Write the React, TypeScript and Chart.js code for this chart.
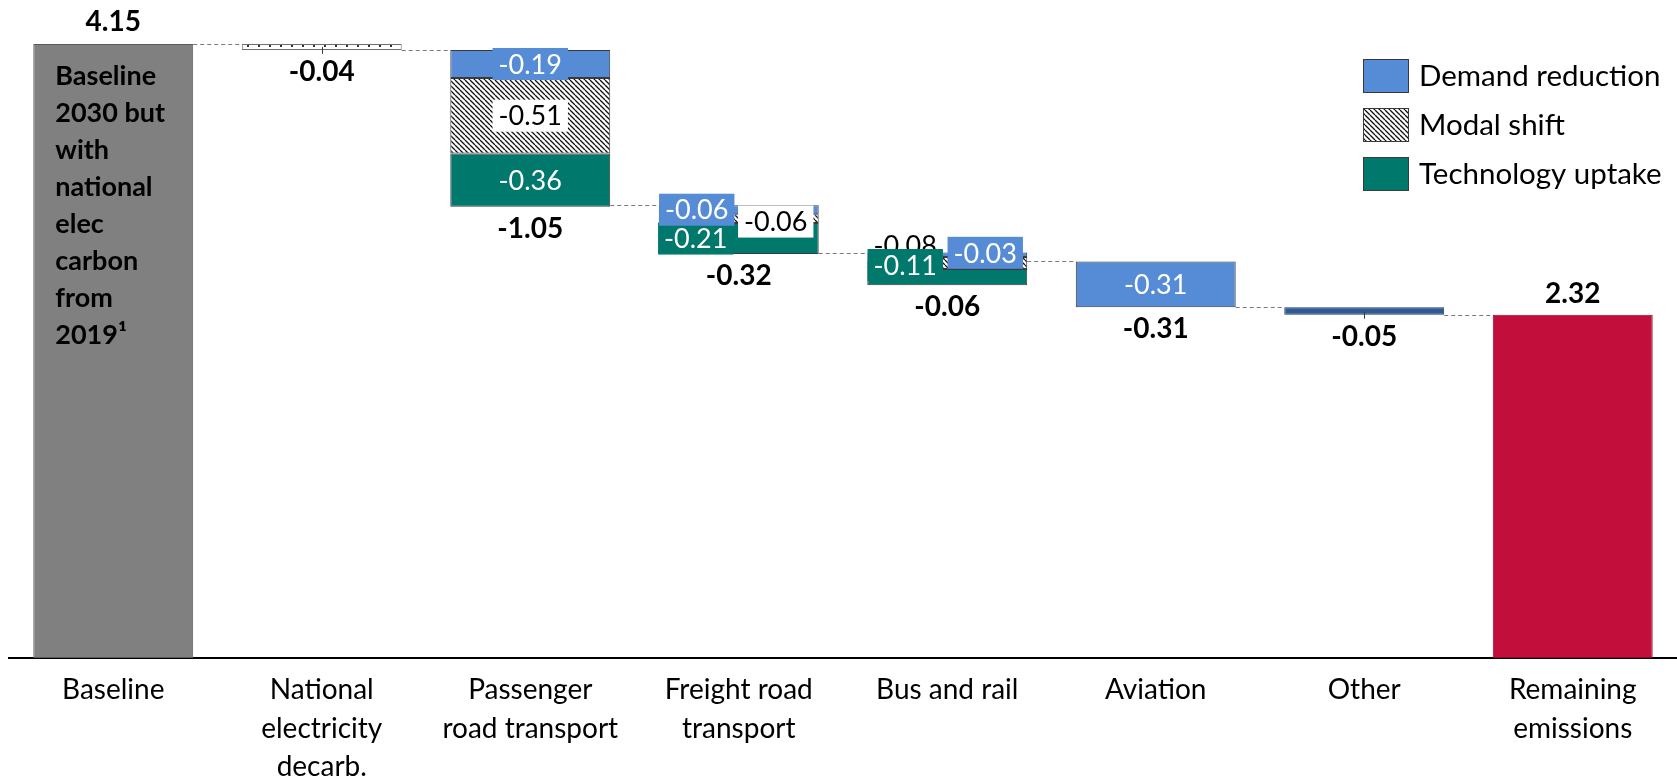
import React, { useEffect, useRef } from "react";
import { Chart, registerables } from "chart.js";

Chart.register(...registerables);

// ---- data -------------------------------------------------------------
const categories: string[][] = [
  ["Baseline"],
  ["National", "electricity", "decarb."],
  ["Passenger", "road transport"],
  ["Freight road", "transport"],
  ["Bus and rail"],
  ["Aviation"],
  ["Other"],
  ["Remaining", "emissions"],
];
const baselineEmissions = 4.15;
const remainingEmissions = 2.32;
const stepTotals = [null, -0.04, -1.05, -0.32, -0.06, -0.31, -0.05, null];
const electricityDecarb = [null, -0.04, null, null, null, null, null, null];
const otherReduction = [null, null, null, null, null, null, -0.05, null];
const demandReduction = [null, null, -0.19, -0.06, -0.03, -0.31, null, null];
const modalShift = [null, null, -0.51, -0.06, -0.08, null, null, null];
const technologyUptake = [null, null, -0.36, -0.21, -0.11, null, null, null];
const baselineNote = ["Baseline", "2030 but", "with", "national", "elec", "carbon", "from", "2019\u00b9"];
const legendItems = ["Demand reduction", "Modal shift", "Technology uptake"];

// ---- styling ----------------------------------------------------------
const FONT = "Lato, 'Noto Sans', sans-serif";
const FONT_SIZE = 27;
const AXIS_FONT_SIZE = 28;
const LEGEND_FONT_SIZE = 29.5;
const BOLD_FONT_SIZE = 28;
const BAR_PCT = 0.767;
const COLORS = {
  baseline: "#808080",
  baselineBorder: "#5a5a5a",
  remaining: "#C20E3B",
  remainingBorder: "#8a0a2a",
  demand: "#568CD6",
  tech: "#00786C",
  other: "#2F5A94",
  outline: "#3a3a3a",
  connector: "#7a7a7a",
};

// label nudges (px) for crowded segments, keyed "category:series"
const labelNudges: Record<string, [number, number]> = {
  "3:demand": [-42, 0],
  "3:modal": [37, 3],
  "3:tech": [-43, 0],
  "4:demand": [38, -2],
  "4:modal": [-42, -18],
  "4:tech": [-42, -12],
};

const round2 = (v: number) => Math.round(v * 100) / 100;

// running emission level after each step
const levels: number[] = [baselineEmissions];
for (let i = 1; i < categories.length - 1; i++) {
  levels.push(round2(levels[i - 1] + (stepTotals[i] ?? 0)));
}

// segments stack downward from the previous level in this order
const segmentSeries = [
  { key: "elec", values: electricityDecarb },
  { key: "other", values: otherReduction },
  { key: "demand", values: demandReduction },
  { key: "modal", values: modalShift },
  { key: "tech", values: technologyUptake },
];
const floating: Record<string, ([number, number] | null)[]> = {};
segmentSeries.forEach((s) => (floating[s.key] = categories.map(() => null)));
const stepBottoms: number[] = [];
for (let i = 1; i < categories.length - 1; i++) {
  let cursor = levels[i - 1];
  for (const s of segmentSeries) {
    const v = s.values[i];
    if (v == null) continue;
    const next = round2(cursor + v);
    floating[s.key][i] = [next, cursor];
    cursor = next;
  }
  stepBottoms[i] = cursor;
}

function hatchPattern(ctx: CanvasRenderingContext2D, size = 5) {
  const c = document.createElement("canvas");
  c.width = size;
  c.height = size;
  const g = c.getContext("2d")!;
  g.fillStyle = "#ffffff";
  g.fillRect(0, 0, size, size);
  g.strokeStyle = "#111111";
  g.lineWidth = 1.3;
  g.beginPath();
  for (let k = -1; k <= 1; k++) {
    g.moveTo(k * size, 0);
    g.lineTo(k * size + size, size);
  }
  g.stroke();
  return ctx.createPattern(c, "repeat")!;
}

function dotPattern(ctx: CanvasRenderingContext2D) {
  const c = document.createElement("canvas");
  c.width = 11;
  c.height = 6;
  const g = c.getContext("2d")!;
  g.fillStyle = "#ffffff";
  g.fillRect(0, 0, 11, 6);
  g.fillStyle = "#333333";
  g.fillRect(5, 3, 2, 2);
  return ctx.createPattern(c, "repeat")!;
}

function labelBox(
  ctx: CanvasRenderingContext2D,
  text: string,
  cx: number,
  cy: number,
  bg: string,
  fg: string
) {
  ctx.font = `${FONT_SIZE}px ${FONT}`;
  const w = ctx.measureText(text).width + 12;
  const h = 32;
  ctx.fillStyle = bg;
  ctx.fillRect(cx - w / 2, cy - h / 2, w, h);
  ctx.fillStyle = fg;
  ctx.textAlign = "center";
  ctx.textBaseline = "middle";
  ctx.fillText(text, cx, cy + 1);
}

const waterfallDecor = {
  id: "waterfallDecor",
  afterDatasetsDraw(chart: any) {
    const { ctx, scales } = chart;
    const x = scales.x;
    const y = scales.y;
    const n = categories.length;
    const cw = (x.right - x.left) / n;
    const half = (cw * BAR_PCT) / 2;
    ctx.save();

    // dashed connectors between consecutive bars
    ctx.strokeStyle = COLORS.connector;
    ctx.lineWidth = 1;
    ctx.setLineDash([4, 3]);
    for (let i = 0; i < levels.length; i++) {
      const yy = Math.round(y.getPixelForValue(levels[i])) + 0.5;
      ctx.beginPath();
      ctx.moveTo(x.getPixelForValue(i) + half, yy);
      ctx.lineTo(x.getPixelForValue(i + 1) - half, yy);
      ctx.stroke();
    }
    ctx.setLineDash([]);

    // small centre ticks on the thin single bars
    ctx.strokeStyle = COLORS.outline;
    [1, 6].forEach((i) => {
      const cx = Math.round(x.getPixelForValue(i)) + 0.5;
      const by = y.getPixelForValue(stepBottoms[i]);
      ctx.beginPath();
      ctx.moveTo(cx, by - 3);
      ctx.lineTo(cx, by + 4);
      ctx.stroke();
    });

    // segment value labels
    const labelStyle: Record<string, [string, string]> = {
      demand: [COLORS.demand, "#ffffff"],
      modal: ["#ffffff", "#000000"],
      tech: [COLORS.tech, "#ffffff"],
    };
    ["modal", "tech", "demand"].forEach((key) => {
      const series = segmentSeries.find((s) => s.key === key)!;
      floating[key].forEach((range, i) => {
        if (!range) return;
        const v = series.values[i] as number;
        const nudge = labelNudges[`${i}:${key}`] || [0, 0];
        const cx = x.getPixelForValue(i) + nudge[0];
        const cy = y.getPixelForValue((range[0] + range[1]) / 2) + nudge[1];
        const [bg, fg] = labelStyle[key];
        labelBox(ctx, v.toFixed(2), cx, cy, bg, fg);
      });
    });

    // bold totals
    ctx.font = `bold ${BOLD_FONT_SIZE}px ${FONT}`;
    ctx.fillStyle = "#000000";
    ctx.textAlign = "center";
    ctx.textBaseline = "middle";
    ctx.fillText(baselineEmissions.toFixed(2), x.getPixelForValue(0), y.getPixelForValue(baselineEmissions) - 22);
    ctx.fillText(remainingEmissions.toFixed(2), x.getPixelForValue(n - 1), y.getPixelForValue(remainingEmissions) - 21);
    for (let i = 1; i < n - 1; i++) {
      const v = stepTotals[i] as number;
      ctx.fillText(v.toFixed(2), x.getPixelForValue(i), y.getPixelForValue(stepBottoms[i]) + 22);
    }

    // note inside the baseline bar
    ctx.font = `bold ${FONT_SIZE}px ${FONT}`;
    ctx.textAlign = "left";
    const noteX = x.getPixelForValue(0) - half + 22;
    const noteY = y.getPixelForValue(baselineEmissions) + 32;
    baselineNote.forEach((line, k) => ctx.fillText(line, noteX, noteY + k * 37));

    // legend
    const fills = [COLORS.demand, chart.$hatch, COLORS.tech];
    ctx.font = `${LEGEND_FONT_SIZE}px ${FONT}`;
    legendItems.forEach((label, k) => {
      const cy = 75.5 + k * 49;
      ctx.fillStyle = fills[k];
      ctx.fillRect(1363, cy - 16.5, 45, 33);
      ctx.strokeStyle = COLORS.outline;
      ctx.lineWidth = 1;
      ctx.strokeRect(1363.5, cy - 16, 45, 33);
      ctx.fillStyle = "#000000";
      ctx.fillText(label, 1419, cy + 1);
    });

    ctx.restore();
  },
};

export default function App() {
  const ref = useRef<HTMLCanvasElement | null>(null);

  useEffect(() => {
    const canvas = ref.current!;
    const ctx = canvas.getContext("2d")!;
    const hatch = hatchPattern(ctx);
    const dots = dotPattern(ctx);
    const n = categories.length;

    const common = {
      grouped: false,
      borderSkipped: false,
      barPercentage: BAR_PCT,
      categoryPercentage: 1,
      borderWidth: 1,
      borderColor: COLORS.outline,
    };

    const chart = new Chart(canvas, {
      type: "bar",
      data: {
        labels: categories,
        datasets: [
          {
            ...common,
            label: "Totals",
            data: categories.map((_, i) =>
              i === 0 ? [0, baselineEmissions] : i === n - 1 ? [0, remainingEmissions] : null
            ),
            backgroundColor: categories.map((_, i) => (i === 0 ? COLORS.baseline : COLORS.remaining)),
            borderColor: categories.map((_, i) => (i === 0 ? COLORS.baselineBorder : COLORS.remainingBorder)),
          },
          { ...common, label: "National electricity decarb.", data: floating.elec, backgroundColor: dots, borderColor: "#6e6e6e" },
          { ...common, label: "Other", data: floating.other, backgroundColor: COLORS.other, borderColor: "#1f3b66" },
          { ...common, label: legendItems[0], data: floating.demand, backgroundColor: COLORS.demand },
          { ...common, label: legendItems[1], data: floating.modal, backgroundColor: hatch },
          { ...common, label: legendItems[2], data: floating.tech, backgroundColor: COLORS.tech },
        ] as any,
      },
      options: {
        animation: false,
        responsive: false,
        devicePixelRatio: 1,
        layout: { padding: { left: 9, right: 0, top: 44, bottom: 0 } },
        plugins: { legend: { display: false }, tooltip: { enabled: false } },
        scales: {
          x: {
            grid: { display: false, drawTicks: false },
            border: { display: true, color: "#000000", width: 2 },
            ticks: {
              color: "#000000",
              font: { family: FONT, size: AXIS_FONT_SIZE, lineHeight: 1.37 },
              padding: 13,
              autoSkip: false,
              maxRotation: 0,
              minRotation: 0,
            },
            afterFit: (scale: any) => {
              scale.height = 122;
            },
          },
          y: { display: false, min: 0, max: baselineEmissions },
        },
      } as any,
      plugins: [waterfallDecor],
    });
    (chart as any).$hatch = hatch;
    chart.draw();

    return () => chart.destroy();
  }, []);

  return (
    <div style={{ position: "fixed", left: 0, top: 0, width: 1677, height: 780, background: "#ffffff" }}>
      <canvas ref={ref} width={1677} height={780} style={{ display: "block" }} />
    </div>
  );
}
